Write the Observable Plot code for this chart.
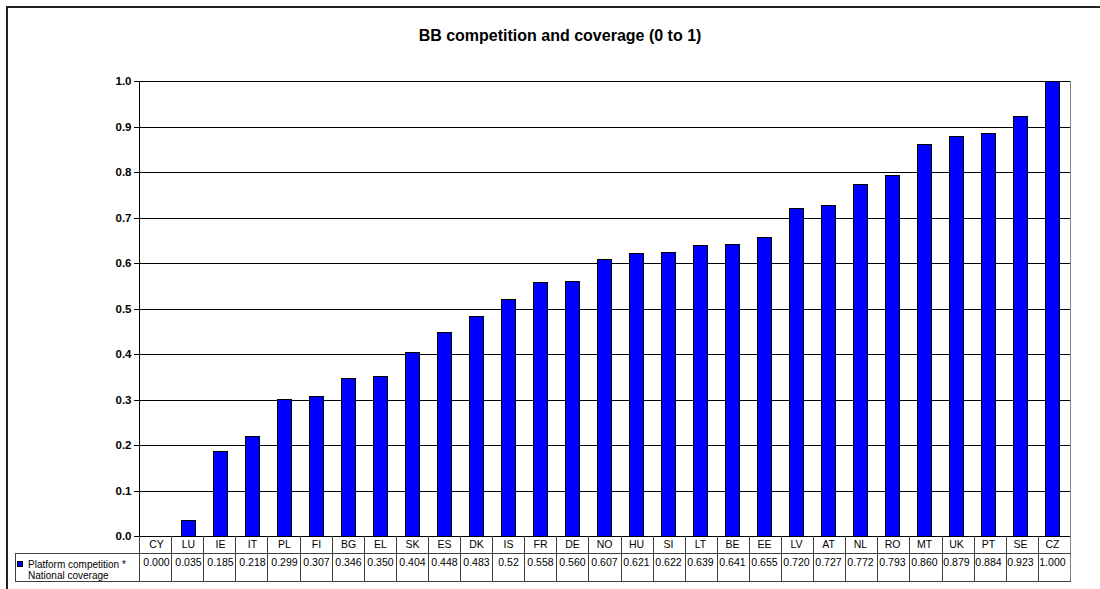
<!DOCTYPE html>
<html><head><meta charset="utf-8">
<script src="https://cdn.jsdelivr.net/npm/d3@7"></script>
<script src="https://cdn.jsdelivr.net/npm/@observablehq/plot@0.6"></script>
<style>
html,body{margin:0;padding:0;background:#fff;overflow:hidden;}
#chart svg{display:block;}
#chart g[aria-label="y-axis tick label"] text{font-weight:bold;}
</style></head><body><div id="chart"></div>
<script>
const titleText = "BB competition and coverage (0 to 1)";
const seriesName = ["Platform competition *", "National coverage"];
const countries = ["CY","LU","IE","IT","PL","FI","BG","EL","SK","ES","DK","IS","FR","DE","NO","HU","SI","LT","BE","EE","LV","AT","NL","RO","MT","UK","PT","SE","CZ"];
const values = [0.000,0.035,0.185,0.218,0.299,0.307,0.346,0.350,0.404,0.448,0.483,0.52,0.558,0.560,0.607,0.621,0.622,0.639,0.641,0.655,0.720,0.727,0.772,0.793,0.860,0.879,0.884,0.923,1.000];
const valueLabels = ["0.000","0.035","0.185","0.218","0.299","0.307","0.346","0.350","0.404","0.448","0.483","0.52","0.558","0.560","0.607","0.621","0.622","0.639","0.641","0.655","0.720","0.727","0.772","0.793","0.860","0.879","0.884","0.923","1.000"];
const yTicks = [0,0.1,0.2,0.3,0.4,0.5,0.6,0.7,0.8,0.9,1.0];

const data = countries.map((c, i) => ({country: c, value: values[i], label: valueLabels[i]}));
const FONT = "Arial, 'Liberation Sans', sans-serif";

const chart = Plot.plot({
  width: 1100,
  height: 589,
  marginLeft: 139,
  marginRight: 30,
  marginTop: 81,
  marginBottom: 53,
  style: {fontFamily: FONT, background: "#fff", color: "#000"},
  x: {domain: countries, paddingInner: 0.56, paddingOuter: 0.28, axis: null},
  y: {domain: [0, 1], axis: null},
  marks: [
    Plot.ruleY(yTicks.filter(d => d > 0), {stroke: "#000", strokeWidth: 1, shapeRendering: "crispEdges"}),
    Plot.barY(data, {x: "country", y: "value", fill: "#0000FF", stroke: "#000", strokeWidth: 1, shapeRendering: "crispEdges"}),
    Plot.axisY({ticks: yTicks, tickFormat: d3.format(".1f"), tickSize: 5, tickPadding: 3, fontSize: 11.5, fontWeight: "bold", label: null, stroke: "#000", shapeRendering: "crispEdges"}),
    Plot.text(data, {x: "country", text: "country", frameAnchor: "bottom", lineAnchor: "middle", dy: 8.5, fontSize: 10.5, fill: "#000"}),
    Plot.text(data, {x: "country", text: "label", frameAnchor: "bottom", lineAnchor: "middle", dy: 26, fontSize: 10.5, fill: "#000"}),
    Plot.text([titleText], {text: d => d, frameAnchor: "top", lineAnchor: "middle", dx: -45, dy: -46, fontSize: 16, fontWeight: "bold", fill: "#000"})
  ]
});

// structural lines (axis, plot border, data table, outer chart frame) via the plot's scales
const xs = chart.scale("x");
const ys = chart.scale("y");
const [r0, r1] = xs.range;
const n = countries.length;
const step = (r1 - r0) / n;
const yBase = Math.round(ys.apply(0));
const yTop = Math.round(ys.apply(1));
const row1 = yBase + 17;
const row2 = yBase + 45;
const tableLeft = 15;
const svg = d3.select(chart);
const g = svg.append("g").attr("shape-rendering", "crispEdges").attr("fill", "none");
const line = (x1, y1, x2, y2, stroke, w) => g.append("line").attr("x1", x1).attr("y1", y1).attr("x2", x2).attr("y2", y2).attr("stroke", stroke).attr("stroke-width", w || 1);
// left axis & base axis
line(Math.round(r0) + 0.5, yTop, Math.round(r0) + 0.5, yBase, "#000");
line(Math.round(r0) - 5, yBase + 0.5, Math.round(r1), yBase + 0.5, "#000");
// right border of plot area and table
line(Math.round(r1) + 0.5, yTop, Math.round(r1) + 0.5, row2, "#808080");
// table column separators
for (let k = 0; k < n; k++) {
  const xk = Math.round(r0 + k * step) + 0.5;
  line(xk, yBase, xk, row2, "#404040");
}
line(tableLeft, row1 + 0.5, Math.round(r1) + 1, row1 + 0.5, "#404040");
line(tableLeft, row2 + 0.5, Math.round(r1) + 1, row2 + 0.5, "#404040");
line(tableLeft + 0.5, row1, tableLeft + 0.5, row2, "#404040");
// legend key
g.append("rect").attr("x", 17.5).attr("y", row1 + 8.5).attr("width", 5).attr("height", 5).attr("fill", "#0000FF").attr("stroke", "#000");
const lg = svg.append("g").attr("font-family", FONT).attr("font-size", 10).attr("fill", "#000").attr("text-anchor", "start");
lg.append("text").attr("x", 28).attr("y", row1 + 14.5).text(seriesName[0]);
lg.append("text").attr("x", 28).attr("y", row1 + 25.5).text(seriesName[1]);
// outer chart frame
line(7, 7, 7, 589, "#222", 2);
line(6, 7, 1100, 7, "#222", 2);

document.getElementById("chart").appendChild(chart);
</script>
</body></html>
